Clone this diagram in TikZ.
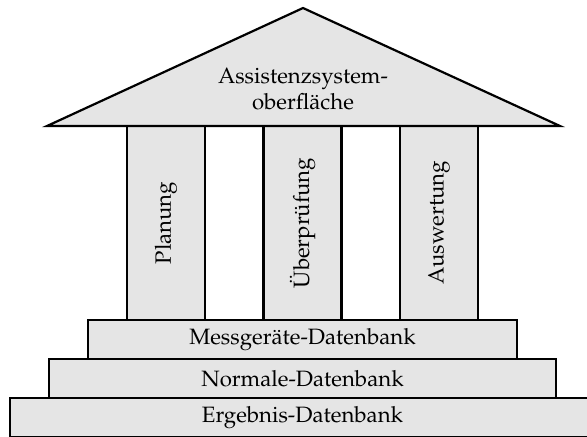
\documentclass[tikz,border=0pt]{standalone}
\usepackage[T1]{fontenc}
\usepackage{mathpazo}
\begin{document}
\begin{tikzpicture}[x=0.5pt,y=-0.5pt,line width=1.1pt,
  font=\fontsize{11.1}{13.2}\selectfont]
\newcommand\saeule[3]{
\draw[fill=gray!20] (#2-39,126) rectangle (#2+39,320);
\node[rotate=90] (#1) at (#2,223) {#3};
}
\newcommand\stufe[4]{
\draw[fill=gray!20] (#2,#3) rectangle (605-#2,#3+39);
\node (#1) at (302.5,#3+19.5) {#4};
}
\useasboundingbox (0,0) rectangle (587,436);
\clip (0,0) rectangle (587,436);
% Saeulen
\saeule{planung}{166}{Planung}
\saeule{pruefung}{302.5}{Überprüfung}
\saeule{auswertung}{439}{Auswertung}
% Stufen
\stufe{mess}{88}{320}{Messgeräte-Datenbank}
\stufe{normale}{49}{359}{Normale-Datenbank}
\stufe{ergebnis}{10}{398}{Ergebnis-Datenbank}
% Dach
\draw[fill=gray!20,line join=miter] (47,126) -- (303,8) -- (560,126) -- cycle;
\node[align=center] (dach) at (303,89) {Assistenzsystem-\\oberfläche};
\end{tikzpicture}
\end{document}
